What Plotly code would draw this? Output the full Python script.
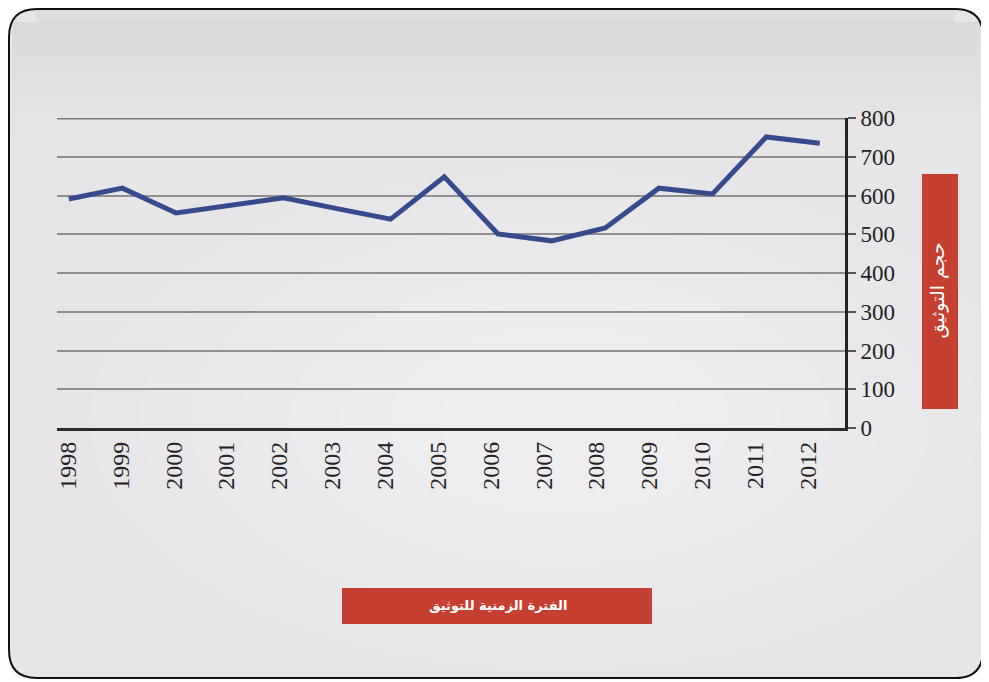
import plotly.graph_objects as go

# ---- data ----
years = [1998, 1999, 2000, 2001, 2002, 2003, 2004, 2005, 2006, 2007, 2008, 2009, 2010, 2011, 2012]
values = [591, 619, 555, 574, 594, 566, 539, 648, 501, 483, 516, 619, 604, 751, 735]
year_labels = [str(y) for y in years]
y_ticks = [0, 100, 200, 300, 400, 500, 600, 700, 800]
x_title = "الفترة الزمنية للتوثيق"
y_title = "حجم التوثيق"

# the page body has an 8px margin; size the figure so it fills the window
OFF = 8
W, H = 989 - OFF, 682 - OFF


def px(x):
    return (x - OFF) / W


def py(y):
    return 1 - (y - OFF) / H


def rounded_rect(x0, y0, x1, y1, r):
    pts = [
        f"M {px(x0 + r)} {py(y0)}",
        f"L {px(x1 - r)} {py(y0)}",
        f"Q {px(x1)} {py(y0)} {px(x1)} {py(y0 + r)}",
        f"L {px(x1)} {py(y1 - r)}",
        f"Q {px(x1)} {py(y1)} {px(x1 - r)} {py(y1)}",
        f"L {px(x0 + r)} {py(y1)}",
        f"Q {px(x0)} {py(y1)} {px(x0)} {py(y1 - r)}",
        f"L {px(x0)} {py(y0 + r)}",
        f"Q {px(x0)} {py(y0)} {px(x0 + r)} {py(y0)}",
        "Z",
    ]
    return " ".join(pts)


fig = go.Figure()
fig.add_trace(go.Scatter(
    x=years, y=values, mode="lines",
    line=dict(color="#384a8e", width=5),
    hoverinfo="x+y", showlegend=False,
))
# invisible companion trace so the label axis is laid out
fig.add_trace(go.Scatter(
    x=years, y=values, mode="lines", xaxis="x2",
    line=dict(width=0), opacity=0, hoverinfo="skip", showlegend=False,
))

FX0, FY0, FX1, FY1 = 9, 9, 983, 678

shapes = []
# background panel
shapes.append(dict(type="path", xref="paper", yref="paper",
                   path=rounded_rect(FX0, FY0, FX1, FY1, 28),
                   fillcolor="#e6e6e8", line=dict(width=0), layer="below"))
# subtle radial lightening
cx, cy = 560, 420
for k in range(8):
    rx = 470 - k * 50
    ry = 250 - k * 26
    shapes.append(dict(type="circle", xref="paper", yref="paper",
                       x0=px(cx - rx), x1=px(cx + rx), y0=py(cy + ry), y1=py(cy - ry),
                       fillcolor="white", opacity=0.06, line=dict(width=0), layer="below"))
# darker top gradient
for yb in range(25, 140, 10):
    shapes.append(dict(type="rect", xref="paper", yref="paper",
                       x0=px(12), x1=px(980), y0=py(yb), y1=py(22),
                       fillcolor="#4a4a52", opacity=0.008, line=dict(width=0), layer="below"))
shapes.append(dict(type="rect", xref="paper", yref="paper",
                   x0=px(36), x1=px(955), y0=py(22), y1=py(10),
                   fillcolor="#4a4a52", opacity=0.05, line=dict(width=0), layer="below"))
# border
shapes.append(dict(type="path", xref="paper", yref="paper",
                   path=rounded_rect(FX0, FY0, FX1, FY1, 28),
                   line=dict(color="#111111", width=2), layer="above"))
# top gridline emphasised
shapes.append(dict(type="line", xref="x domain", yref="y",
                   x0=0, x1=1, y0=800, y1=800,
                   line=dict(color="#7a7a7a", width=3), layer="below"))
# red boxes
shapes.append(dict(type="rect", xref="paper", yref="paper",
                   x0=px(342), x1=px(652), y0=py(624), y1=py(588),
                   fillcolor="#c64031", line=dict(width=0)))
shapes.append(dict(type="rect", xref="paper", yref="paper",
                   x0=px(922), x1=px(958), y0=py(409), y1=py(174),
                   fillcolor="#c64031", line=dict(width=0)))

annotations = [
    dict(text="<b>" + x_title + "</b>", xref="paper", yref="paper", x=px(498), y=py(606),
         showarrow=False, yshift=-9,
         font=dict(family="DejaVu Sans", size=13, color="white")),
    dict(text=y_title, xref="paper", yref="paper", x=px(940), y=py(291),
         showarrow=False, textangle=-90, xshift=10, yshift=0,
         font=dict(family="DejaVu Sans", size=19, color="white")),
]

fig.update_layout(
    width=W, height=H,
    margin=dict(l=0, r=0, t=0, b=0, autoexpand=False),
    paper_bgcolor="white",
    plot_bgcolor="rgba(0,0,0,0)",
    shapes=shapes,
    annotations=annotations,
    xaxis=dict(
        domain=[px(57), px(845)],
        range=[1997.78, 2012.47],
        showticklabels=False,
        showline=True, linecolor="#2b2b2b", linewidth=3,
        showgrid=False, zeroline=False, ticks="",
        automargin=False,
        fixedrange=True,
    ),
    xaxis2=dict(
        overlaying="x", anchor="y", side="bottom",
        range=[1997.792, 2012.699],
        tickmode="array", tickvals=years, ticktext=year_labels,
        tickangle=-90,
        tickfont=dict(family="Liberation Serif", size=24, color="#222222"),
        showline=False, showgrid=False, zeroline=False, ticks="",
        ticklabelstandoff=8, ticklabelshift=0,
        automargin=False,
        fixedrange=True,
    ),
    yaxis=dict(
        domain=[py(428), py(118)],
        range=[0, 800],
        side="right",
        tickmode="array", tickvals=y_ticks,
        tickfont=dict(family="Liberation Serif", size=23, color="#222222"),
        ticks="outside", ticklen=8, tickwidth=2, tickcolor="#555555",
        showline=True, linecolor="#222222", linewidth=3,
        showgrid=True, gridcolor="#8f8f8f", gridwidth=1.5,
        zeroline=False,
        ticklabelstandoff=0,
        automargin=False,
        fixedrange=True,
    ),
)

fig.write_html("out.html")
